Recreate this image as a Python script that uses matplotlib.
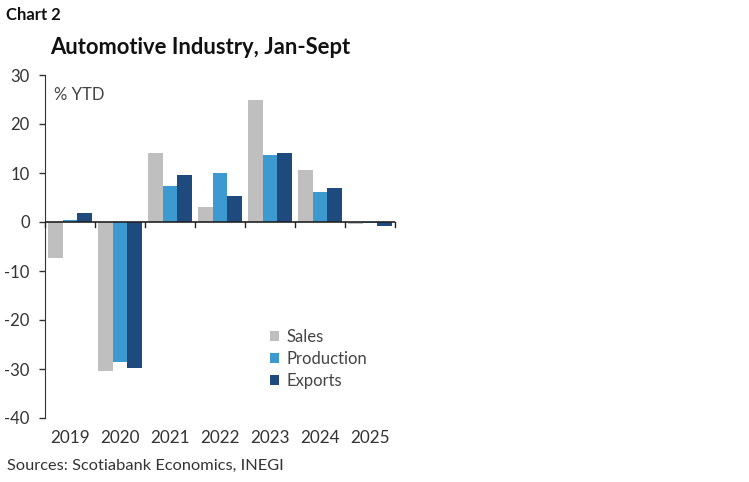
import matplotlib
matplotlib.use("Agg")
import matplotlib.pyplot as plt
import numpy as np

years = ["2019", "2020", "2021", "2022", "2023", "2024", "2025"]
sales = [-7.4, -30.5, 14.1, 3.0, 25.0, 10.6, -0.5]
production = [0.35, -28.5, 7.4, 9.9, 13.6, 6.1, -0.2]
exports = [1.9, -29.8, 9.5, 5.3, 14.0, 7.0, -0.9]
series_names = ["Sales", "Production", "Exports"]
colors = ["#BFBFBF", "#3D9AD1", "#1F4A7E"]

plt.rcParams['font.family'] = ['Lato', 'DejaVu Sans']

W, H = 749, 482
fig = plt.figure(figsize=(W/100, H/100), dpi=100)
ax = fig.add_axes([45/W, (H-418)/H, (395-45)/W, (418-75)/H])

x = np.arange(len(years))
bw = 0.287
for i, (vals, name, c) in enumerate(zip([sales, production, exports], series_names, colors)):
    ax.bar(x + (i-1)*bw, vals, width=bw, color=c, label=name, zorder=2)

ax.set_xlim(-0.5, len(years)-0.5)
ax.set_ylim(-40, 30)
ax.set_yticks(range(-40, 31, 10))
ax.set_yticklabels([str(v) for v in range(-40, 31, 10)], fontsize=12, color="#333333")
ax.tick_params(axis='y', length=4, width=1, color="#333333", pad=7)

for s in ["top", "right", "bottom"]:
    ax.spines[s].set_visible(False)
ax.spines["left"].set_color("#333333")
ax.axhline(0, color="#222222", lw=1.2, zorder=3)
ax.set_xticks([])
for b in np.arange(-0.5, len(years), 1.0):
    ax.plot([b, b], [0, -1.0], color="#222222", lw=1, zorder=3, clip_on=False)
for xi, lab in zip(x, years):
    ax.text(xi, -44, lab, ha="center", va="center", fontsize=12.3, color="#333333")

ax.text(0.025, 0.965, "% YTD", transform=ax.transAxes, ha="left", va="top",
        fontsize=12, color="#444444")

leg = ax.legend(loc="upper left", bbox_to_anchor=(218/350, (418-322)/343),
                frameon=False, fontsize=12, handlelength=0.55, handleheight=0.55,
                handletextpad=0.45, labelspacing=0.38, borderaxespad=0)
for t in leg.get_texts():
    t.set_color("#444444")

fig.text(6/W, 1-15/H, "Chart 2", fontsize=12, fontweight="bold", va="center", ha="left", color="#111111")
fig.text(50/W, 1-47/H, "Automotive Industry, Jan-Sept", fontsize=15.8, fontweight="bold",
         va="center", ha="left", color="#111111")
fig.text(7/W, 1-466/H, "Sources: Scotiabank Economics, INEGI", fontsize=11.8, va="center",
         ha="left", color="#333333")

fig.savefig("out.png", dpi=100)
